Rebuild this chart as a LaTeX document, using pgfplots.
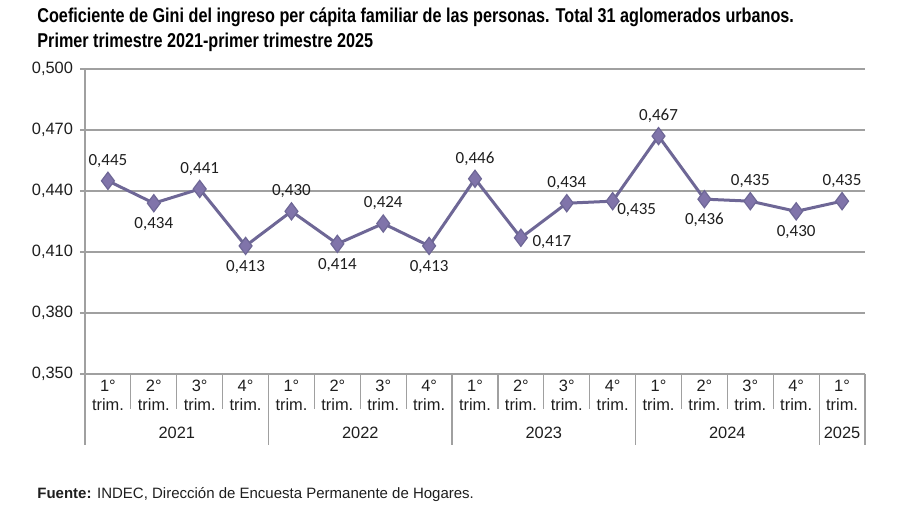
\documentclass[border=0pt]{standalone}
\usepackage{pgfplots}
\pgfplotsset{compat=1.18}
\usepackage{fontspec}
\setmainfont{Liberation Sans}
\newfontfamily\narrowbold{Liberation Sans}[FakeStretch=0.81]
\newfontfamily\carlito{Carlito}
\definecolor{gini}{RGB}{110,103,150}
\definecolor{ginifill}{RGB}{128,116,170}
\definecolor{gridgray}{RGB}{160,160,160}
\definecolor{txt}{RGB}{30,30,30}

\begin{document}
\begin{tikzpicture}
\path[use as bounding box] (-42.5pt,-65.5pt) rectangle (407.5pt,187pt);

% titulo
\node[anchor=base west,font=\narrowbold\bfseries\fontsize{10pt}{12pt}\selectfont,text=black,inner sep=0pt]
  at (-24pt,176pt) {Coeficiente de Gini del ingreso per cápita familiar de las personas. Total 31 aglomerados urbanos.};
\node[anchor=base west,font=\narrowbold\bfseries\fontsize{10pt}{12pt}\selectfont,text=black,inner sep=0pt]
  at (-24pt,163.5pt) {Primer trimestre 2021-primer trimestre 2025};

\begin{axis}[
  at={(0,0)}, anchor=south west,
  scale only axis, width=390pt, height=152.5pt,
  xmin=-0.5, xmax=16.5,
  ymin=0.35, ymax=0.5,
  ytick={0.35,0.38,0.41,0.44,0.47,0.5},
  ymajorgrids,
  grid style={gridgray,line width=0.6pt},
  axis x line=bottom, axis y line=left,
  axis line style={-,gridgray,line width=0.6pt},
  y tick style={gridgray,line width=0.6pt},
  tick align=outside,
  major tick length=2.5pt,
  xtick={0,...,16},
  x tick style={draw=none},
  xticklabels={1°\\trim.,2°\\trim.,3°\\trim.,4°\\trim.,
               1°\\trim.,2°\\trim.,3°\\trim.,4°\\trim.,
               1°\\trim.,2°\\trim.,3°\\trim.,4°\\trim.,
               1°\\trim.,2°\\trim.,3°\\trim.,4°\\trim.,
               1°\\trim.},
  xticklabel style={align=center,font=\fontsize{8.2pt}{9.5pt}\selectfont,text=txt,yshift=3pt},
  yticklabel style={font=\fontsize{8.2pt}{10pt}\selectfont,text=txt},
  /pgf/number format/assume math mode=true,
  /pgf/number format/use comma,
  /pgf/number format/fixed,
  /pgf/number format/fixed zerofill,
  /pgf/number format/precision=3,
  clip=false,
]
\addplot[gini,line width=1.5pt,mark=diamond*,mark size=4.3pt,
  mark options={fill=ginifill,draw=gini,line width=0.6pt}] coordinates {
  (0,0.445) (1,0.434) (2,0.441) (3,0.413)
  (4,0.430) (5,0.414) (6,0.424) (7,0.413)
  (8,0.446) (9,0.417) (10,0.434) (11,0.435)
  (12,0.467) (13,0.436) (14,0.435) (15,0.430)
  (16,0.435)
};
% etiquetas arriba
\addplot[draw=none,mark=none,forget plot,nodes near coords,point meta=y,
  every node near coord/.style={font=\carlito\fontsize{8.5pt}{10pt}\selectfont,text=txt,anchor=center,yshift=10pt}]
  coordinates {(0,0.445) (2,0.441) (4,0.430) (6,0.424) (8,0.446) (10,0.434) (12,0.467) (14,0.435) (16,0.435)};
% etiquetas abajo
\addplot[draw=none,mark=none,forget plot,nodes near coords,point meta=y,
  every node near coord/.style={font=\carlito\fontsize{8.5pt}{10pt}\selectfont,text=txt,anchor=center,yshift=-10.5pt}]
  coordinates {(1,0.434) (3,0.413) (5,0.414) (7,0.413) (13,0.436) (15,0.430)};
% etiquetas a la derecha
\addplot[draw=none,mark=none,forget plot,nodes near coords,point meta=y,
  every node near coord/.style={font=\carlito\fontsize{8.5pt}{10pt}\selectfont,text=txt,anchor=center,xshift=15.5pt,yshift=-2pt}]
  coordinates {(9,0.417)};
\addplot[draw=none,mark=none,forget plot,nodes near coords,point meta=y,
  every node near coord/.style={font=\carlito\fontsize{8.5pt}{10pt}\selectfont,text=txt,anchor=center,xshift=12pt,yshift=-4.5pt}]
  coordinates {(11,0.435)};

% separadores de categorias
\pgfplotsinvokeforeach{0.5,1.5,2.5,4.5,5.5,6.5,8.5,9.5,10.5,12.5,13.5,14.5}{
  \draw[gridgray,line width=0.6pt] (axis cs:#1,0.35) -- ([yshift=-17.5pt]axis cs:#1,0.35);
}
\pgfplotsinvokeforeach{-0.5,3.5,7.5,11.5,15.5,16.5}{
  \draw[gridgray,line width=0.6pt] (axis cs:#1,0.35) -- ([yshift=-35.5pt]axis cs:#1,0.35);
}
% años
\node[font=\fontsize{8.2pt}{10pt}\selectfont,text=txt] at ([yshift=-29.5pt]axis cs:1.5,0.35) {2021};
\node[font=\fontsize{8.2pt}{10pt}\selectfont,text=txt] at ([yshift=-29.5pt]axis cs:5.5,0.35) {2022};
\node[font=\fontsize{8.2pt}{10pt}\selectfont,text=txt] at ([yshift=-29.5pt]axis cs:9.5,0.35) {2023};
\node[font=\fontsize{8.2pt}{10pt}\selectfont,text=txt] at ([yshift=-29.5pt]axis cs:13.5,0.35) {2024};
\node[font=\fontsize{8.2pt}{10pt}\selectfont,text=txt] at ([yshift=-29.5pt]axis cs:16,0.35) {2025};
\end{axis}

% fuente
\node[anchor=base west,font=\fontsize{7.5pt}{9pt}\selectfont,text=txt,inner sep=0pt]
  at (-24pt,-62pt) {\textbf{Fuente:} INDEC, Dirección de Encuesta Permanente de Hogares.};
\end{tikzpicture}
\end{document}
